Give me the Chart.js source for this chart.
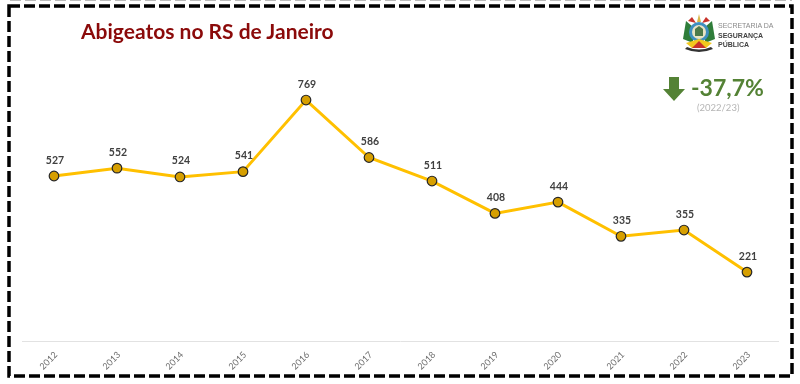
<!DOCTYPE html>
<html>
<head>
<meta charset="utf-8">
<style>
  html, body { margin: 0; padding: 0; background: #fff; }
  #wrap { position: relative; width: 800px; height: 384px; overflow: hidden; }
  canvas { position: absolute; left: 0; top: 0; }
  .txt { position: absolute; white-space: nowrap; font-family: Lato, sans-serif; }
</style>
<script src="https://cdn.jsdelivr.net/npm/chart.js@4"></script>
</head>
<body>
<div id="wrap">
  <canvas id="chart" width="800" height="384"></canvas>
  <div class="txt" style="left:81px;top:18px;font-size:21px;font-weight:700;color:#8b0a0a;">Abigeatos no RS de Janeiro</div>
  <svg style="position:absolute;left:680px;top:13px" width="38" height="42" viewBox="0 0 38 42">
    <path d="M3 26 L6 8 L13 14 L13 30 Z" fill="#2f7d3a"/>
    <path d="M35 26 L32 8 L25 14 L25 30 Z" fill="#2f7d3a"/>
    <path d="M8 8 L12 4 L16 10 Z" fill="#c8322b"/>
    <path d="M30 8 L26 4 L22 10 Z" fill="#c8322b"/>
    <path d="M19 1 L21 9 L17 9 Z" fill="#d9b84a"/>
    <circle cx="19" cy="19" r="10" fill="#3f8fc0"/>
    <circle cx="19" cy="19" r="7" fill="#e9e4c4"/>
    <path d="M15 23 L15 16 L19 13 L23 16 L23 23 Z" fill="#4d7a4a"/>
    <path d="M6 30 L19 26 L32 30 L26 35 L12 35 Z" fill="#f2c81e"/>
    <path d="M12 35 L19 28 L26 35 Z" fill="#c8322b"/>
    <path d="M5 36 Q19 42 33 36 L31 34 Q19 39 7 34 Z" fill="#333"/>
  </svg>
  <div class="txt" style="left:718px;top:21px;font-size:7px;line-height:9.5px;color:#8a8a8a;font-family:'Liberation Sans',sans-serif;">SECRETARIA DA<br><b style="color:#444">SEGURANÇA</b><br><b style="color:#444">PÚBLICA</b></div>
  <svg style="position:absolute;left:662px;top:76px" width="24" height="26" viewBox="0 0 24 26">
    <path d="M7 1 H17 V13 H23 L12 25 L1 13 H7 Z" fill="#548235"/>
  </svg>
  <div class="txt" style="left:691px;top:73px;font-size:23px;font-weight:700;color:#548235;">-37,7%</div>
  <div class="txt" style="left:697px;top:102px;font-size:9.5px;color:#b5b5b5;">(2022/23)</div>
</div>
<script>
const years = ['2012', '2013', '2014', '2015', '2016', '2017', '2018', '2019', '2020', '2021', '2022', '2023'];
const abigeatos = [527, 552, 524, 541, 769, 586, 511, 408, 444, 335, 355, 221];

// dashed frame around the whole slide, plus the faint cut-off one at the top edge
const framePlugin = {
  id: 'frame',
  beforeDraw(chart) {
    const ctx = chart.ctx;
    ctx.save();
    ctx.strokeStyle = '#000';
    ctx.lineWidth = 3.5;
    ctx.setLineDash([11, 4]);
    ctx.strokeRect(9, 6, 783, 370);
    ctx.strokeStyle = '#bbb';
    ctx.lineWidth = 2;
    ctx.beginPath();
    ctx.moveTo(10, 0);
    ctx.lineTo(792, 0);
    ctx.stroke();
    ctx.restore();
  }
};

// value above each point
const valuePlugin = {
  id: 'values',
  afterDatasetsDraw(chart) {
    const ctx = chart.ctx;
    const points = chart.getDatasetMeta(0).data;
    ctx.save();
    ctx.font = '700 10.5px Lato, sans-serif';
    ctx.fillStyle = '#404040';
    ctx.textAlign = 'center';
    ctx.textBaseline = 'alphabetic';
    points.forEach((p, i) => {
      ctx.fillText(String(abigeatos[i]), p.x + 1, p.y - 12.5);
    });
    ctx.restore();
  }
};

new Chart(document.getElementById('chart'), {
  type: 'line',
  data: {
    labels: years,
    datasets: [{
      data: abigeatos,
      borderColor: '#ffc000',
      borderWidth: 3,
      pointBackgroundColor: '#d69f00',
      pointBorderColor: '#262626',
      pointBorderWidth: 1.2,
      pointRadius: 4.8,
      tension: 0
    }]
  },
  options: {
    responsive: false,
    animation: false,
    layout: { padding: { left: 22.5, right: 21.5, top: 27.5, bottom: 0 } },
    plugins: { legend: { display: false }, tooltip: { enabled: false } },
    scales: {
      x: {
        offset: true,
        grid: { display: false },
        border: { color: '#e2e2e2', width: 1 },
        ticks: { color: '#6f6f6f', font: { family: 'Lato', size: 9 }, minRotation: 45, maxRotation: 45, padding: 0, labelOffset: 2 },
        afterFit(scale) { scale.height = 42.5; }
      },
      y: {
        display: false,
        min: 0,
        max: 1000
      }
    }
  },
  plugins: [framePlugin, valuePlugin]
});
</script>
</body>
</html>
